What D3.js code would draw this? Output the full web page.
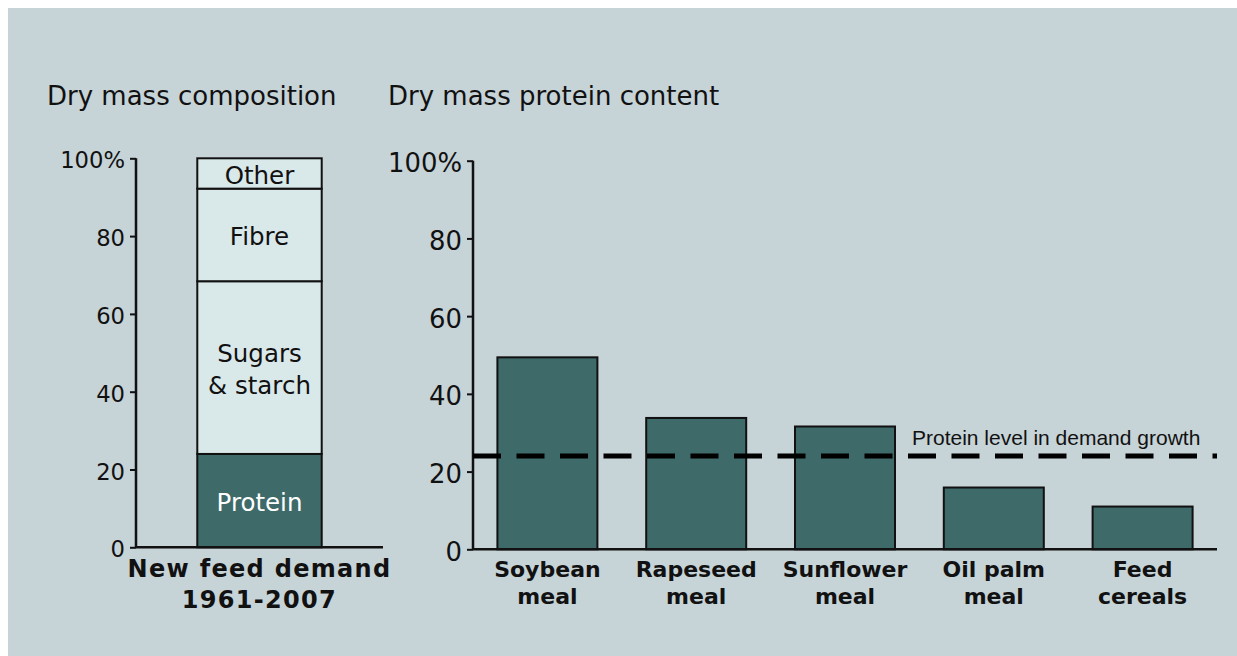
<!DOCTYPE html>
<html>
<head>
<meta charset="utf-8">
<script src="https://cdn.jsdelivr.net/npm/d3@7"></script>
<style>
  html, body { margin: 0; padding: 0; background: #fff; }
  svg { display: block; }
  text { font-family: "DejaVu Sans", Verdana, sans-serif; fill: #111; }
</style>
</head>
<body>
<svg id="chart" width="1237" height="656"></svg>
<script>
/* Dry mass composition of new feed demand vs protein content of feeds */

// left panel: stacked composition of new feed demand 1961-2007
const compositionParts = ["Protein", "Sugars & starch", "Fibre", "Other"];
const compositionValues = [24, 44.4, 23.8, 7.8];
const compositionLabel = ["New feed demand", "1961-2007"];

// right panel: protein content of feeds
const feeds = ["Soybean meal", "Rapeseed meal", "Sunflower meal", "Oil palm meal", "Feed cereals"];
const feedLines = [["Soybean", "meal"], ["Rapeseed", "meal"], ["Sunflower", "meal"], ["Oil palm", "meal"], ["Feed", "cereals"]];
const proteinContent = [49.4, 33.8, 31.6, 15.9, 11.0];
const demandProteinLevel = 24;

const yTicks = [0, 20, 40, 60, 80, 100];

(function() {
  const DARK = "#3e6a6a";
  const LIGHT = "#d9e8e9";
  const BG = "#c6d3d7";

  const svg = d3.select("#chart");

  svg.append("rect")
    .attr("x", 8).attr("y", 8)
    .attr("width", 1237 - 8).attr("height", 656 - 8)
    .attr("fill", BG);

  function tickFormat(d) {
    return d === 100 ? "100%" : d;
  }

  /** Style an axis group the same way for both panels. */
  function styleAxis(g, fontSize) {
    g.select(".domain").remove();
    g.selectAll(".tick line").attr("stroke", "#111").attr("stroke-width", 2);
    g.selectAll(".tick text")
      .style("font-size", fontSize + "px")
      .attr("dy", "0.42em")
      .attr("fill", "#111");
  }

  // ---------- left panel ----------
  const yL = d3.scaleLinear().domain([0, 100]).range([547.3, 158.3]);
  const xL = d3.scaleBand().domain(["demand"]).range([136, 383]).padding(0.33);

  svg.append("text")
    .attr("x", 47).attr("y", 105)
    .style("font-size", "26px")
    .text("Dry mass composition");

  const axisL = svg.append("g")
    .attr("transform", "translate(136,0)")
    .call(d3.axisLeft(yL).tickValues(yTicks).tickFormat(tickFormat).tickSize(6).tickPadding(5));
  styleAxis(axisL, 22.7);

  let acc = 0;
  const stacked = compositionParts.map((name, i) => {
    const s = { name: name, y0: acc, y1: acc + compositionValues[i] };
    acc += compositionValues[i];
    return s;
  });

  const seg = svg.selectAll(".seg")
    .data(stacked)
    .enter()
    .append("g")
    .classed("seg", true);

  seg.append("rect")
    .attr("x", xL("demand"))
    .attr("width", xL.bandwidth())
    .attr("y", d => yL(d.y1))
    .attr("height", d => yL(d.y0) - yL(d.y1))
    .attr("fill", (d, i) => (i === 0 ? DARK : LIGHT))
    .attr("stroke", "#111")
    .attr("stroke-width", 2);

  seg.each(function(d, i) {
    const lines = d.name === "Sugars & starch" ? ["Sugars", "& starch"] : [d.name];
    const cy = (yL(d.y0) + yL(d.y1)) / 2;
    const lh = 32;
    d3.select(this)
      .selectAll("text")
      .data(lines)
      .enter()
      .append("text")
      .attr("x", xL("demand") + xL.bandwidth() / 2)
      .attr("y", (l, j) => cy + (j - (lines.length - 1) / 2) * lh)
      .attr("dy", "0.43em")
      .attr("text-anchor", "middle")
      .style("font-size", "24.5px")
      .style("fill", i === 0 ? "#fff" : "#111")
      .text(l => l);
  });

  svg.append("line")
    .attr("x1", 136).attr("x2", 136)
    .attr("y1", yL(100)).attr("y2", yL(0))
    .attr("stroke", "#111").attr("stroke-width", 2.5);
  svg.append("line")
    .attr("x1", 136).attr("x2", 383)
    .attr("y1", yL(0)).attr("y2", yL(0))
    .attr("stroke", "#111").attr("stroke-width", 2.5);

  svg.append("g")
    .selectAll("text")
    .data(compositionLabel)
    .enter()
    .append("text")
    .attr("x", xL("demand") + xL.bandwidth() / 2)
    .attr("y", (d, i) => 576.7 + i * 31)
    .attr("text-anchor", "middle")
    .style("font-size", "24px")
    .style("font-weight", "bold")
    .style("letter-spacing", "1.3px")
    .text(d => d);

  // ---------- right panel ----------
  const yR = d3.scaleLinear().domain([0, 100]).range([549.3, 160.7]);
  const xR = d3.scaleBand().domain(feeds).range([473, 1217])
    .paddingInner(0.328).paddingOuter(0.164);

  svg.append("text")
    .attr("x", 388).attr("y", 105)
    .style("font-size", "26px")
    .text("Dry mass protein content");

  const axisR = svg.append("g")
    .attr("transform", "translate(473,0)")
    .call(d3.axisLeft(yR).tickValues(yTicks).tickFormat(tickFormat).tickSize(6).tickPadding(5));
  styleAxis(axisR, 25.9);

  svg.selectAll(".bar")
    .data(feeds)
    .enter()
    .append("rect")
    .classed("bar", true)
    .attr("x", d => xR(d))
    .attr("width", xR.bandwidth())
    .attr("y", (d, i) => yR(proteinContent[i]))
    .attr("height", (d, i) => yR(0) - yR(proteinContent[i]))
    .attr("fill", DARK)
    .attr("stroke", "#111")
    .attr("stroke-width", 2);

  svg.append("line")
    .attr("x1", 473).attr("x2", 473)
    .attr("y1", yR(100)).attr("y2", yR(0))
    .attr("stroke", "#111").attr("stroke-width", 2.5);
  svg.append("line")
    .attr("x1", 473).attr("x2", 1217)
    .attr("y1", yR(0)).attr("y2", yR(0))
    .attr("stroke", "#111").attr("stroke-width", 2.5);

  // protein level of the demand growth
  svg.append("line")
    .attr("x1", 473).attr("x2", 1217)
    .attr("y1", yR(demandProteinLevel)).attr("y2", yR(demandProteinLevel))
    .attr("stroke", "#000")
    .attr("stroke-width", 5)
    .attr("stroke-dasharray", "28,15.5");

  svg.append("text")
    .attr("x", 912).attr("y", 445)
    .style("font-family", "'Liberation Sans', Arial, sans-serif")
    .style("font-size", "21px")
    .text("Protein level in demand growth");

  const cat = svg.selectAll(".cat")
    .data(feeds)
    .enter()
    .append("text")
    .classed("cat", true)
    .attr("x", d => xR(d) + xR.bandwidth() / 2)
    .attr("y", 577)
    .attr("text-anchor", "middle")
    .style("font-size", "22px")
    .style("font-weight", "bold");

  cat.selectAll("tspan")
    .data((d, i) => feedLines[i])
    .enter()
    .append("tspan")
    .attr("x", function() { return d3.select(this.parentNode).attr("x"); })
    .attr("dy", (d, j) => (j === 0 ? 0 : 26.5))
    .text(d => d);
})();
</script>
</body>
</html>
